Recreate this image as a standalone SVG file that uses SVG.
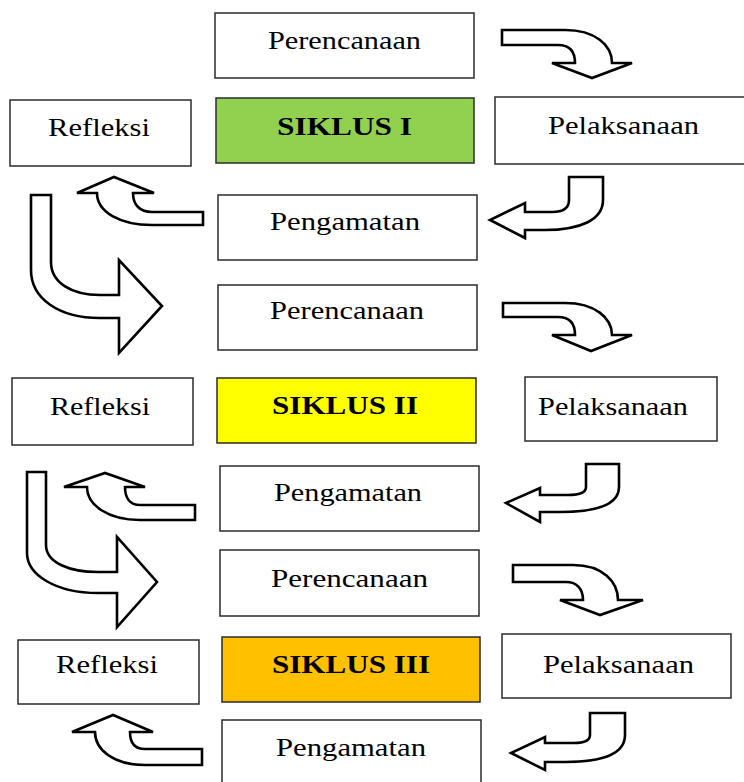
<svg xmlns="http://www.w3.org/2000/svg" width="744" height="782" viewBox="0 0 744 782">
<style>
.box{fill:#fff;stroke:#2b2b2b;stroke-width:1.5}
.t{font-family:"Liberation Serif","Times New Roman",serif;font-size:26px;fill:#000}
.b{font-weight:bold}
.arr{fill:#fff;stroke:#000;stroke-width:2.6;stroke-linejoin:miter}
</style>
<rect width="744" height="782" fill="#fff"/>
<g id="connectors">
<!-- cycle 1 -->
<path class="arr" d="M502,30 H565 C595,30 612,45 612,63 H632 L592,78 L552,63 H575 C575,52 570,45 558,45 H502 Z"/>
<path class="arr" d="M569,177 H603 V200 C603,220 580,230 545,230 H525 V238 L490,220 L525,203 V212 H552 C563,212 569,208 569,200 Z"/>
<path class="arr" d="M203,212 V225 H152 C120,225 97,212 97,193 H77 L114,177 L154,193 H133 C133,205 140,212 152,212 Z"/>
<path class="arr" d="M31,195 H51 V262 C51,283 72,295 100,295 H119 V260 L162,306 L119,353 V318 H100 C58,318 31,298 31,270 Z"/>
<!-- cycle 2 -->
<path class="arr" d="M503,303 H565 C595,303 612,318 612,335 H632 L591,351 L552,335 H575 C575,324 570,317 558,317 H503 Z"/>
<path class="arr" d="M586,464 H619 V487 C619,505 596,512 560,512 H540 V522 L506,503 L540,488 V495 H568 C580,495 586,492 586,487 Z"/>
<path class="arr" d="M195,505 V520 H140 C108,520 87,505 87,487 H64 L105,473 L145,487 H125 C125,498 130,505 140,505 Z"/>
<path class="arr" d="M27,472 H46 V545 C46,563 70,572 98,572 H117 V537 L157,582 L117,627 V593 H98 C56,593 27,575 27,553 Z"/>
<!-- cycle 3 -->
<path class="arr" d="M513,565 H573 C603,565 618,582 618,600 H643 L600,615 L560,600 H583 C583,589 577,582 566,582 H513 Z"/>
<path class="arr" d="M590,713 H625 V735 C625,754 602,762 565,762 H545 V770 L511,753 L545,737 V743 H574 C585,743 590,740 590,735 Z"/>
<path class="arr" d="M202,749 V765 H145 C114,765 95,750 95,732 H72 L113,715 L153,732 H130 C130,743 135,749 145,749 Z"/>
</g>
<g id="perencanaan1"><rect class="box" x="215" y="13" width="259" height="65"/><text class="t" x="268" y="49" textLength="153" lengthAdjust="spacingAndGlyphs">Perencanaan</text></g>
<g id="refleksi1"><rect class="box" x="10" y="100" width="181" height="66"/><text class="t" x="48" y="136" textLength="102" lengthAdjust="spacingAndGlyphs">Refleksi</text></g>
<g id="siklus1"><rect class="box" x="216" y="98" width="258" height="65" fill="#92d050" style="fill:#92d050"/><text class="t b" x="277" y="135" textLength="135" lengthAdjust="spacingAndGlyphs">SIKLUS I</text></g>
<g id="pelaksanaan1"><rect class="box" x="495" y="97" width="255" height="67"/><text class="t" x="548" y="134" textLength="151" lengthAdjust="spacingAndGlyphs">Pelaksanaan</text></g>
<g id="pengamatan1"><rect class="box" x="218" y="195" width="259" height="65"/><text class="t" x="270" y="230" textLength="150" lengthAdjust="spacingAndGlyphs">Pengamatan</text></g>

<g id="perencanaan2"><rect class="box" x="218" y="285" width="259" height="65"/><text class="t" x="270" y="319" textLength="154" lengthAdjust="spacingAndGlyphs">Perencanaan</text></g>
<g id="refleksi2"><rect class="box" x="12" y="378" width="181" height="67"/><text class="t" x="50" y="415" textLength="100" lengthAdjust="spacingAndGlyphs">Refleksi</text></g>
<g id="siklus2"><rect class="box" x="217" y="378" width="259" height="65" style="fill:#ffff00"/><text class="t b" x="272" y="414" textLength="146" lengthAdjust="spacingAndGlyphs">SIKLUS II</text></g>
<g id="pelaksanaan2"><rect class="box" x="525" y="377" width="192" height="64"/><text class="t" x="538" y="415" textLength="150" lengthAdjust="spacingAndGlyphs">Pelaksanaan</text></g>
<g id="pengamatan2"><rect class="box" x="220" y="466" width="259" height="65"/><text class="t" x="274" y="501" textLength="148" lengthAdjust="spacingAndGlyphs">Pengamatan</text></g>

<g id="perencanaan3"><rect class="box" x="220" y="550" width="259" height="66"/><text class="t" x="271" y="587" textLength="157" lengthAdjust="spacingAndGlyphs">Perencanaan</text></g>
<g id="refleksi3"><rect class="box" x="18" y="640" width="181" height="64"/><text class="t" x="56" y="673" textLength="102" lengthAdjust="spacingAndGlyphs">Refleksi</text></g>
<g id="siklus3"><rect class="box" x="222" y="637" width="258" height="65" style="fill:#ffc000"/><text class="t b" x="272" y="673" textLength="158" lengthAdjust="spacingAndGlyphs">SIKLUS III</text></g>
<g id="pelaksanaan3"><rect class="box" x="502" y="634" width="229" height="64"/><text class="t" x="543" y="673" textLength="151" lengthAdjust="spacingAndGlyphs">Pelaksanaan</text></g>
<g id="pengamatan3"><rect class="box" x="222" y="720" width="259" height="70"/><text class="t" x="276" y="756" textLength="150" lengthAdjust="spacingAndGlyphs">Pengamatan</text></g>
</svg>
